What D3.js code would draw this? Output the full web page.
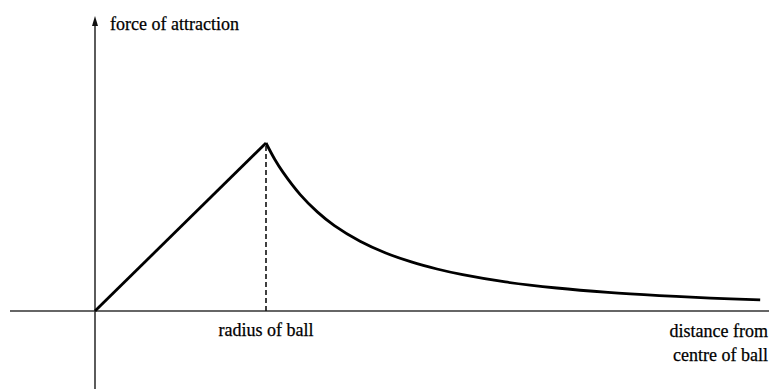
<!DOCTYPE html>
<html>
<head>
<meta charset="utf-8">
<script src="https://cdn.jsdelivr.net/npm/d3@7"></script>
<style>
  html, body { margin: 0; padding: 0; background: #fff; }
  svg { display: block; }
  text { font-family: "Liberation Serif", "Times New Roman", serif; fill: #000; stroke: #000; stroke-width: 0.25; }
</style>
</head>
<body>
<svg id="chart" width="769" height="389"></svg>
<script>
// Distance from centre, in units of the ball's radius
const distance = [0, 1, 1.05, 1.1, 1.2, 1.3, 1.4, 1.55, 1.7, 1.85, 2.0, 2.15, 2.4, 2.7, 3.0, 3.3, 3.6, 3.89];
// Force of attraction, relative to its value at the surface
const force    = [0, 1, 0.905, 0.825, 0.693, 0.59, 0.508, 0.415, 0.345, 0.292, 0.25, 0.216, 0.173, 0.137, 0.111, 0.092, 0.077, 0.066];
// Where the ball's surface sits
const ballRadius = [1];
// Axis and marker labels
const yLabel = "force of attraction";
const markerLabel = "radius of ball";
const xLabel = ["distance from", "centre of ball"];

const svg = d3.select("#chart");

const x = d3.scaleLinear().domain([0, 1]).range([95, 266]);
const y = d3.scaleLinear().domain([0, 1]).range([311, 143]);

const x0 = x(0), y0 = y(0);

// horizontal axis
svg.append("line")
  .attr("x1", 10).attr("x2", 769)
  .attr("y1", y0).attr("y2", y0)
  .attr("stroke", "#333").attr("stroke-width", 1.6);

// vertical axis with arrowhead
svg.append("line")
  .attr("x1", x0).attr("x2", x0)
  .attr("y1", 389).attr("y2", 24)
  .attr("stroke", "#333").attr("stroke-width", 1.6);
svg.append("path")
  .attr("d", `M${x0},16 L${x0 + 3},26 L${x0 - 3},26 Z`)
  .attr("fill", "#111");

// dashed drop line at the surface
svg.selectAll(".radius-line").data(ballRadius).enter().append("line")
  .attr("class", "radius-line")
  .attr("x1", d => x(d)).attr("x2", d => x(d))
  .attr("y1", d => y(force[distance.indexOf(d)]) + 3).attr("y2", y0)
  .attr("stroke", "#111").attr("stroke-width", 1.6)
  .attr("stroke-dasharray", "5,3");

// force curve: straight rise inside the ball, smooth fall outside
const pts = distance.map((d, i) => [d, force[i]]);
const inside = pts.filter(p => p[0] <= 1);
const outside = pts.filter(p => p[0] >= 1);
svg.append("path")
  .attr("d", d3.line().x(d => x(d[0])).y(d => y(d[1]))(inside))
  .attr("fill", "none").attr("stroke", "#000").attr("stroke-width", 2.8);
svg.append("path")
  .attr("d", d3.line().x(d => x(d[0])).y(d => y(d[1])).curve(d3.curveCatmullRom.alpha(0.5))(outside))
  .attr("fill", "none").attr("stroke", "#000").attr("stroke-width", 2.8);

// labels
svg.append("text")
  .attr("x", 110).attr("y", 30)
  .attr("font-size", 18)
  .text(yLabel);

svg.append("text")
  .attr("x", x(ballRadius[0])).attr("y", 336)
  .attr("text-anchor", "middle")
  .attr("font-size", 18)
  .text(markerLabel);

svg.selectAll(".xlabel").data(xLabel).enter().append("text")
  .attr("class", "xlabel")
  .attr("x", 768).attr("y", (d, i) => 337 + i * 23.5)
  .attr("text-anchor", "end")
  .attr("font-size", 18)
  .text(d => d);
</script>
</body>
</html>
